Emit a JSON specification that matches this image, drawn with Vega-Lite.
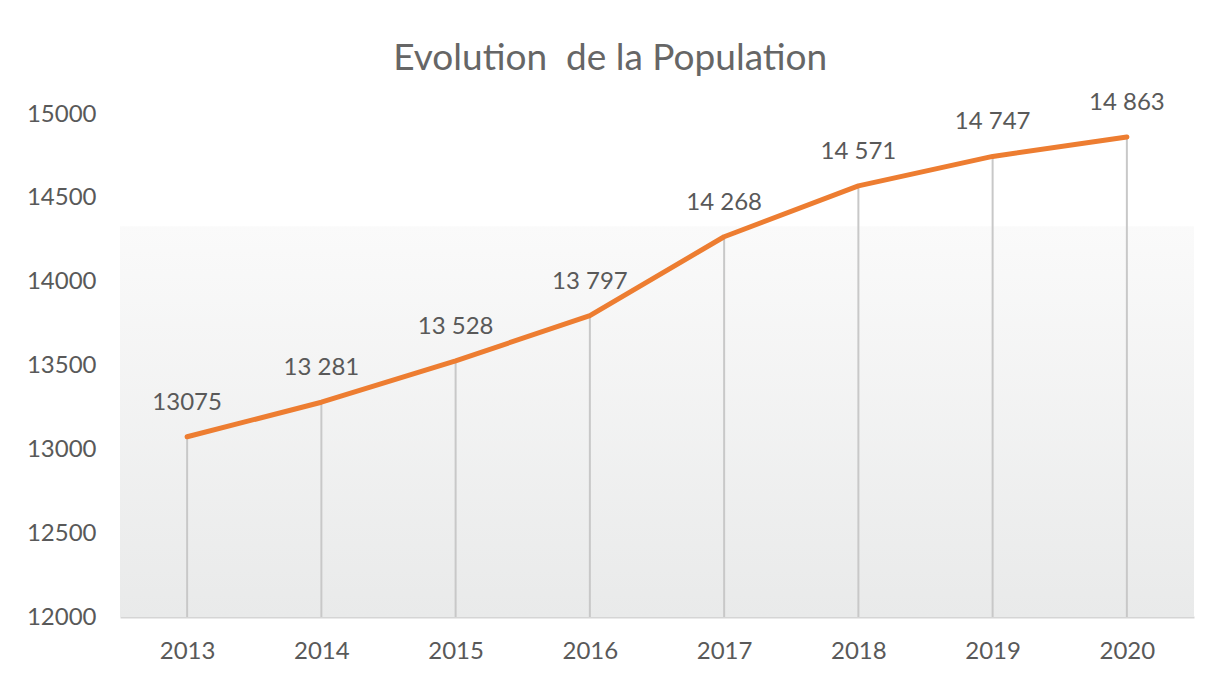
{
  "$schema": "https://vega.github.io/schema/vega-lite/v6.json",
  "autosize": {"type": "none"},
  "width": 1074,
  "height": 503,
  "padding": {"left": 120, "top": 114, "right": 27, "bottom": 62},
  "background": "white",
  "title": {
    "text": "Evolution\u00a0 de la Population",
    "anchor": "middle",
    "frame": "bounds",
    "font": "Lato",
    "fontSize": 37,
    "fontWeight": "normal",
    "color": "#666666",
    "offset": 13
  },
  "config": {
    "view": {"stroke": null},
    "font": "Lato"
  },
  "data": {
    "values": [
      {"year": "2013", "pop": 13075, "label": "13075"},
      {"year": "2014", "pop": 13281, "label": "13 281"},
      {"year": "2015", "pop": 13528, "label": "13 528"},
      {"year": "2016", "pop": 13797, "label": "13 797"},
      {"year": "2017", "pop": 14268, "label": "14 268"},
      {"year": "2018", "pop": 14571, "label": "14 571"},
      {"year": "2019", "pop": 14747, "label": "14 747"},
      {"year": "2020", "pop": 14863, "label": "14 863"}
    ]
  },
  "layer": [
    {
      "data": {"values": [{"band": "fond"}]},
      "mark": {"type": "rect", "color": {"gradient": "linear", "x1": 0, "y1": 0, "x2": 0, "y2": 1, "stops": [{"offset": 0, "color": "#fafafa"}, {"offset": 1, "color": "#e9eaea"}]}},
      "encoding": {
        "y": {"datum": 14330, "type": "quantitative", "scale": {"domain": [12000, 15000], "nice": false, "zero": false}},
        "y2": {"datum": 12000}
      }
    },
    {
      "mark": {"type": "rule", "color": "#c8c8c8", "strokeWidth": 2},
      "encoding": {
        "x": {"field": "year", "type": "ordinal", "scale": {"type": "point", "padding": 0.5}},
        "y": {"field": "pop", "type": "quantitative"},
        "y2": {"datum": 12000}
      }
    },
    {
      "mark": {"type": "line", "color": "#ed7d31", "strokeWidth": 5, "strokeCap": "round", "strokeJoin": "round"},
      "encoding": {
        "x": {
          "field": "year",
          "type": "ordinal",
          "scale": {"type": "point", "padding": 0.5},
          "axis": {
            "title": null,
            "labelAngle": 0,
            "labelAlign": "center",
            "labelBaseline": "top",
            "ticks": false,
            "domainColor": "#d5d5d5",
            "domainWidth": 2,
            "labelFontSize": 24,
            "labelColor": "#595959",
            "labelPadding": 22,
            "grid": false
          }
        },
        "y": {
          "field": "pop",
          "type": "quantitative",
          "scale": {"domain": [12000, 15000], "nice": false, "zero": false},
          "axis": {
            "title": null,
            "values": [12000, 12500, 13000, 13500, 14000, 14500, 15000],
            "format": "d",
            "ticks": false,
            "domain": false,
            "grid": false,
            "labelFontSize": 24,
            "labelColor": "#595959",
            "labelPadding": 24
          }
        }
      }
    },
    {
      "mark": {"type": "text", "dy": -34, "fontSize": 24, "color": "#595959", "font": "Lato"},
      "encoding": {
        "x": {"field": "year", "type": "ordinal", "scale": {"type": "point", "padding": 0.5}},
        "y": {"field": "pop", "type": "quantitative"},
        "text": {"field": "label"}
      }
    }
  ]
}
